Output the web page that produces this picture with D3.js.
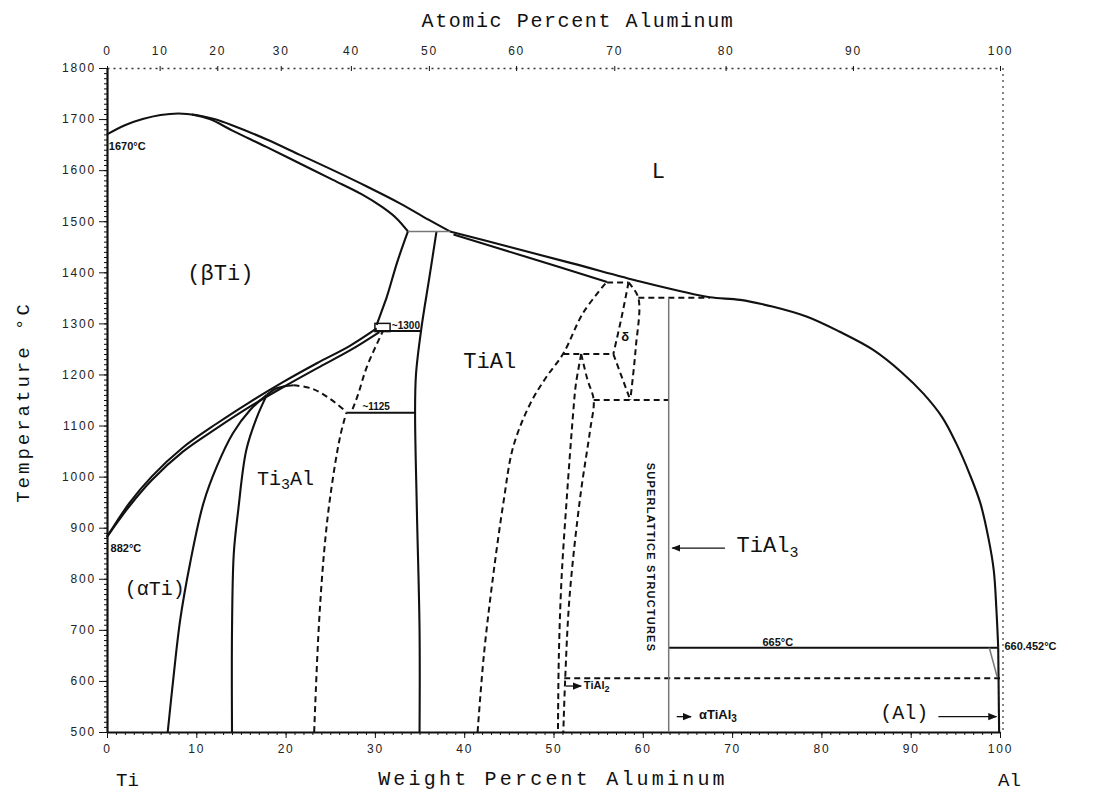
<!DOCTYPE html>
<html>
<head>
<meta charset="UTF-8">
<style>
body { margin: 0; background: #fff; }
svg { display: block; }
.curve { fill: none; stroke: #111; stroke-width: 2.1; }
.dash { fill: none; stroke: #111; stroke-width: 2; stroke-dasharray: 6,4; }
.thin { fill: none; stroke: #777; stroke-width: 1.5; }
.lbl { font-family: "Liberation Mono", monospace; fill: #111; }
.small { font-family: "Liberation Sans", sans-serif; font-weight: bold; fill: #111; }
.axis text { font-family: "Liberation Sans", sans-serif; font-size: 12px; fill: #222; letter-spacing: 1.8px; }
.axis line { stroke: #111; }
</style>
</head>
<body>
<svg id="chart" width="1109" height="792"></svg>
<script src="https://d3js.org/d3.v7.min.js"></script>
<script>

// tick labels
var tempTicks = [500, 600, 700, 800, 900, 1000, 1100, 1200, 1300, 1400, 1500, 1600, 1700, 1800];
var wtTicks = [0, 10, 20, 30, 40, 50, 60, 70, 80, 90, 100];
var atTicks = [0, 10, 20, 30, 40, 50, 60, 70, 80, 90, 100];

// phase boundaries, [wt% Al, temperature C]
var liquidusBeta = [[0,1670],[2,1688],[4,1700],[6,1708],[8,1711],[10,1708],[12,1700],[14,1688],[17.9,1660],[21.6,1630],[25.3,1600],[29.1,1568],[32.8,1535],[36,1503],[38.4,1480]];
var solidusBeta = [[9.5,1709],[11.5,1700],[14.1,1677],[17.9,1645],[21.6,1613],[25.3,1581],[28.5,1553],[30.8,1528],[32.4,1506],[33.7,1480]];
var liquidusAl = [[38.4,1480],[45,1450],[52,1418],[59.7,1382],[64,1364],[67.5,1351],[70.9,1346],[74.5,1333],[78.4,1313],[82,1284],[85.8,1248],[89,1204],[91.4,1163],[93.5,1117],[95.1,1065],[96.6,1005],[97.8,948],[98.7,880],[99.3,817],[99.6,739],[99.8,665]];
var solidusTiAl = [[38.8,1474],[47,1430],[56,1381]];
var peritectic1480 = [[33.7,1480],[38.4,1480]];
var betaAlphaLeft = [[33.7,1480],[32.5,1420],[31.3,1350],[30.2,1297]];
var tialLeft = [[36.9,1480],[36.1,1390],[35.2,1290],[34.6,1200],[34.5,1124],[34.7,935],[35,700],[35,500]];
var betaTransus = [[0,882],[2.5,948],[5,1000],[8.5,1057],[12.3,1104],[16,1146],[19.7,1185],[23.5,1222],[27.2,1256],[30.2,1290]];
var alphaTransus = [[0,882],[2.5,942],[5,993],[8.5,1049],[12.3,1095],[16,1137],[19.7,1175],[23.5,1212],[27.2,1247],[30.5,1283]];
var alphaLimit = [[6.8,500],[7.4,600],[8.2,720],[9.3,830],[10.8,948],[12.3,1020],[14.1,1085],[16,1130],[17.9,1160]];
var alpha2Left = [[14,500],[14,700],[14.2,850],[14.7,935],[15.6,1052],[16.8,1117],[17.9,1160]];
var alpha2Dome = [[17.9,1160],[19,1173],[20.9,1179]];
var alpha2DomeDash = [[20.9,1179],[23,1172],[25,1152],[26.8,1127]];
var alpha2Right = [[23.2,500],[23.7,700],[24.3,850],[25,961],[26.1,1078],[26.8,1125]];
var eutectoid1125 = [[26.8,1125],[34.5,1125]];
var alphaGamma = [[27.5,1132],[28.1,1160],[29.1,1215],[30.9,1285]];
var line1285 = [[30,1285],[35.2,1285]];
var box1300 = [[30,1284],[31.7,1300]];
var tialRight = [[41.5,500],[42.2,650],[43.2,800],[44.4,950],[45.5,1059],[47.4,1143],[49.2,1195],[51.1,1241],[53.3,1320],[55.8,1378]];
var h1240 = [[51.1,1240],[56.7,1240]];
var h1380 = [[56,1380],[58.4,1380]];
var deltaLeft = [[58.4,1380],[57.6,1310],[56.7,1240]];
var deltaRight = [[58.4,1380],[59.5,1350],[59.2,1250],[58.6,1150]];
var deltaDiag = [[56.7,1240],[58.6,1150]];
var h1350 = [[59.5,1350],[67.5,1350]];
var h1150 = [[54.5,1150],[62.9,1150]];
var tial2Left = [[53.1,1240],[52.5,1180],[52.2,1124],[51.5,961],[50.9,800],[50.6,650],[50.5,500]];
var tial2Right = [[53.1,1240],[53.8,1190],[54.5,1150],[54.1,1091],[53,961],[51.8,765],[51.3,600],[51.1,500]];
var tial3Line = [[62.9,1350],[62.9,500]];
var peritectic665 = [[62.9,665],[99.8,665]];
var h605 = [[51.2,605],[100,605]];
var alSolvus = [[98.8,665],[99.7,607]];
var alLine = [[99.8,665],[99.9,500]];

var svg = d3.select("#chart");

var x = d3.scaleLinear().domain([0, 100]).range([107, 1000]);
var y = d3.scaleLinear().domain([500, 1800]).range([732, 68]);

// atomic % -> weight % Al
function at2wt(a) {
  return 100 * a * 26.98 / (a * 26.98 + (100 - a) * 47.87);
}

var smooth = d3.line().x(function(d) { return x(d[0]); }).y(function(d) { return y(d[1]); }).curve(d3.curveCatmullRom.alpha(0.5));
var straight = d3.line().x(function(d) { return x(d[0]); }).y(function(d) { return y(d[1]); });

// ---------- axes ----------
var leftAxis = svg.append("g").attr("class", "axis").attr("transform", "translate(" + x(0) + ",0)")
  .call(d3.axisLeft(y).tickValues(tempTicks).tickFormat(d3.format("d")).tickSize(8).tickSizeOuter(0).tickPadding(3));
leftAxis.select(".domain").attr("stroke", "#111").attr("stroke-width", 2.2);
svg.append("g").attr("class", "axis").attr("transform", "translate(" + x(0) + ",0)")
  .call(d3.axisLeft(y).tickValues(d3.range(500, 1800, 10)).tickSize(3).tickFormat(""))
  .select(".domain").remove();

var bottomAxis = svg.append("g").attr("class", "axis").attr("transform", "translate(0," + y(500) + ")")
  .call(d3.axisBottom(x).tickValues(wtTicks).tickSize(6).tickSizeOuter(0).tickPadding(6));
bottomAxis.select(".domain").attr("stroke", "#111").attr("stroke-width", 2);
svg.append("g").attr("class", "axis").attr("transform", "translate(0," + y(500) + ")")
  .call(d3.axisBottom(x).tickValues(d3.range(0, 100, 1)).tickSize(3).tickFormat(""))
  .select(".domain").remove();

var topAxis = svg.append("g").attr("class", "axis").attr("transform", "translate(0," + y(1800) + ")")
  .call(d3.axisTop(x).tickValues(atTicks.map(at2wt)).tickFormat(function(d, i) { return atTicks[i]; })
    .tickSize(5).tickSizeOuter(0).tickPadding(8));
topAxis.select(".domain").attr("stroke", "#333").attr("stroke-width", 1.5).attr("stroke-dasharray", "2,4");
topAxis.selectAll(".tick line").attr("transform", "translate(0,3)");

svg.append("line").attr("x1", x(100) + 3).attr("x2", x(100) + 3).attr("y1", y(1800)).attr("y2", y(500))
  .attr("stroke", "#444").attr("stroke-width", 1.3).attr("stroke-dasharray", "2,4");

// ---------- boundaries ----------
var g = svg.append("g");
[liquidusBeta, solidusBeta, liquidusAl, solidusTiAl, betaAlphaLeft, tialLeft, betaTransus, alphaTransus,
 alphaLimit, alpha2Left, alpha2Dome].forEach(function(c) {
  g.append("path").attr("class", "curve").attr("d", smooth(c));
});
[eutectoid1125, line1285, peritectic665, alLine].forEach(function(c) {
  g.append("path").attr("class", "curve").attr("d", straight(c));
});
[alpha2DomeDash, alpha2Right, alphaGamma, tialRight, tial2Left, tial2Right, deltaLeft, deltaRight].forEach(function(c) {
  g.append("path").attr("class", "dash").attr("d", smooth(c));
});
[h1240, h1380, deltaDiag, h1350, h1150, h605].forEach(function(c) {
  g.append("path").attr("class", "dash").attr("d", straight(c));
});
[peritectic1480, alSolvus].forEach(function(c) {
  g.append("path").attr("class", "thin").attr("d", straight(c));
});
g.append("path").attr("class", "thin").attr("stroke", "#555").attr("d", straight(tial3Line));
g.append("rect").attr("x", x(box1300[0][0])).attr("y", y(box1300[1][1]))
  .attr("width", x(box1300[1][0]) - x(box1300[0][0])).attr("height", y(box1300[0][1]) - y(box1300[1][1]))
  .attr("fill", "none").attr("stroke", "#111").attr("stroke-width", 1.5);

// ---------- labels ----------
function label(t, wt, temp, size, cls) {
  return svg.append("text").attr("class", cls || "lbl").attr("x", x(wt)).attr("y", y(temp))
    .style("font-size", size + "px").text(t);
}

svg.append("text").attr("class", "lbl").attr("x", 578).attr("y", 27).attr("text-anchor", "middle")
  .style("font-size", "20px").style("letter-spacing", "1.6px").text("Atomic Percent Aluminum");
svg.append("text").attr("class", "lbl").attr("x", 553).attr("y", 785).attr("text-anchor", "middle")
  .style("font-size", "20px").style("letter-spacing", "3.2px").text("Weight Percent Aluminum");
svg.append("text").attr("class", "lbl").attr("transform", "translate(29,402) rotate(-90)").attr("text-anchor", "middle")
  .style("font-size", "19px").style("letter-spacing", "3px").text("Temperature °C");
svg.append("text").attr("class", "lbl").attr("x", 116).attr("y", 786).style("font-size", "19px").text("Ti");
svg.append("text").attr("class", "lbl").attr("x", 998).attr("y", 786).style("font-size", "19px").text("Al");

label("L", 61, 1585, 22);
label("(βTi)", 9, 1385, 22);
label("TiAl", 39.9, 1213, 22);
var t3 = label("Ti", 16.8, 984, 20);
t3.append("tspan").attr("dy", 4).style("font-size", "15px").text("3");
t3.append("tspan").attr("dy", -4).text("Al");
label("(αTi)", 2, 768, 20);
label("1670°C", 0.2, 1640, 11, "small");
label("882°C", 0.4, 852, 11, "small");
label("~1300", 31.9, 1289, 10, "small");
label("~1125", 28.6, 1130, 10, "small");
label("δ", 57.6, 1265, 13, "small");
label("665°C", 73.4, 669, 11, "small");
label("660.452°C", 100.5, 661, 11, "small");

var ta3 = label("TiAl", 70.5, 853, 22);
ta3.append("tspan").attr("dy", 5).style("font-size", "15px").text("3");
var ata3 = label("αTiAl", 66.3, 525, 13, "small");
ata3.append("tspan").attr("dy", 3).style("font-size", "10px").text("3");
var ta2 = label("TiAl", 53.4, 584, 11, "small");
ta2.append("tspan").attr("dy", 3).style("font-size", "9px").text("2");
label("(Al)", 86.6, 525, 20);

svg.append("text").attr("class", "small")
  .attr("transform", "translate(" + (x(62.9) - 22) + "," + y(1027) + ") rotate(90)")
  .attr("text-anchor", "start").style("font-size", "11px").style("letter-spacing", "1.2px")
  .text("SUPERLATTICE STRUCTURES");

// arrows
svg.append("defs").append("marker").attr("id", "head").attr("viewBox", "0 0 10 10")
  .attr("refX", 9).attr("refY", 5).attr("markerWidth", 7).attr("markerHeight", 7).attr("orient", "auto")
  .append("path").attr("d", "M0,1L10,5L0,9Z").attr("fill", "#111");
function arrow(w1, w2, temp) {
  svg.append("line").attr("x1", x(w1)).attr("x2", x(w2)).attr("y1", y(temp)).attr("y2", y(temp))
    .attr("stroke", "#111").attr("stroke-width", 1.3).attr("marker-end", "url(#head)");
}
arrow(69.2, 63.3, 860);
arrow(63.8, 65.4, 530);
arrow(93.1, 99.6, 530);
arrow(51.4, 53.1, 590);

</script>
</body>
</html>
